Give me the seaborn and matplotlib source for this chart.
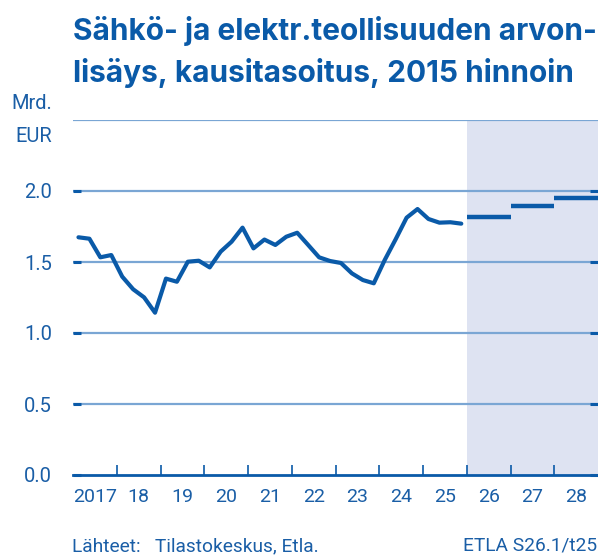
import numpy as np
import pandas as pd
import matplotlib
matplotlib.use("Agg")
import matplotlib.pyplot as plt
import seaborn as sns

# Quarterly value added, bn EUR (2017Q1 .. 2025Q4)
years = np.repeat(np.arange(2017, 2026), 4)
quarters = np.tile([1, 2, 3, 4], 9)
values = [1.674, 1.664, 1.533, 1.549,
          1.397, 1.308, 1.251, 1.143,
          1.383, 1.361, 1.502, 1.509,
          1.462, 1.573, 1.643, 1.742,
          1.596, 1.658, 1.620, 1.678,
          1.706, 1.620, 1.533, 1.507,
          1.493, 1.420, 1.373, 1.350,
          1.514, 1.660, 1.812, 1.873,
          1.803, 1.777, 1.780, 1.770]

# Annual forecast levels
fc_years = [2026, 2027, 2028]
fc_values = [1.815, 1.897, 1.953]

year_labels = ["2017", "18", "19", "20", "21", "22", "23", "24", "25", "26", "27", "28"]
y_ticks = [0.0, 0.5, 1.0, 1.5, 2.0]

title = "Sähkö- ja elektr.teollisuuden arvon-\nlisäys, kausitasoitus, 2015 hinnoin"
source = "Lähteet:   Tilastokeskus, Etla."
code = "ETLA S26.1/t25"

DARK = "#0a5aa8"
GRID = "#7aa6d4"
SHADE = "#dee3f2"
TEXT = "#1a5ea6"

sns.set_style("white")
plt.rcParams["font.family"] = ["Roboto", "DejaVu Sans"]

df = pd.DataFrame({"year": years, "quarter": quarters, "value": values})
df["t"] = df["year"] + (df["quarter"] - 0.5) / 4

fig = plt.figure(figsize=(5.98, 5.56), dpi=100)
ax = fig.add_axes([73 / 598, 1 - 475 / 556, 1 - 73 / 598, (475 - 120) / 556])

ax.axvspan(2026, 2029, color=SHADE, lw=0, zorder=0)
for yv in [0.5, 1.0, 1.5, 2.0, 2.5]:
    ax.axhline(yv, color=GRID, lw=1.6, zorder=0.5)

sns.lineplot(data=df, x="t", y="value", ax=ax, color=DARK, lw=3, zorder=3)
ax.hlines(fc_values, fc_years, [y + 1 for y in fc_years], color=DARK, lw=3.2, zorder=3)

ax.set_xlim(2017, 2029)
ax.set_ylim(0, 2.5)
ax.set_xlabel("")
ax.set_ylabel("")

for s in ["top", "right", "left"]:
    ax.spines[s].set_visible(False)
ax.spines["bottom"].set_color(DARK)
ax.spines["bottom"].set_linewidth(2)
ax.spines["bottom"].set_zorder(4)

ax.set_yticks(y_ticks)
ax.set_yticklabels([f"{v:.1f}" for v in y_ticks])
ax.tick_params(axis="y", direction="in", left=True, right=True, length=6, width=2.2,
               color=DARK, labelcolor=TEXT, labelsize=14.5, pad=15)

ax.set_xticks(np.arange(2018, 2029))
ax.set_xticklabels([])
ax.set_xticks(np.arange(2017, 2029) + 0.5, minor=True)
ax.set_xticklabels(year_labels, minor=True)
ax.tick_params(axis="x", which="major", direction="in", bottom=True, length=7, width=1.2, color=DARK)
ax.tick_params(axis="x", which="minor", length=0, labelcolor=TEXT, labelsize=14, pad=9)

fig.text(52 / 598, 1 - 104 / 556, "Mrd.", color=TEXT, fontsize=14.5, ha="right", va="center")
fig.text(52 / 598, 1 - 137 / 556, "EUR", color=TEXT, fontsize=14.5, ha="right", va="center")

fig.text(73 / 598, 1 - 16 / 556, title, color=DARK, fontsize=21.5, fontweight="bold",
         family=["Inter", "DejaVu Sans"], ha="left", va="top", linespacing=1.5)
fig.text(72 / 598, 1 - 546 / 556, source, color=TEXT, fontsize=13.8, ha="left", va="center")
fig.text(597 / 598, 1 - 546 / 556, code, color=TEXT, fontsize=13.8, ha="right", va="center")

fig.savefig("out.png", dpi=100)
